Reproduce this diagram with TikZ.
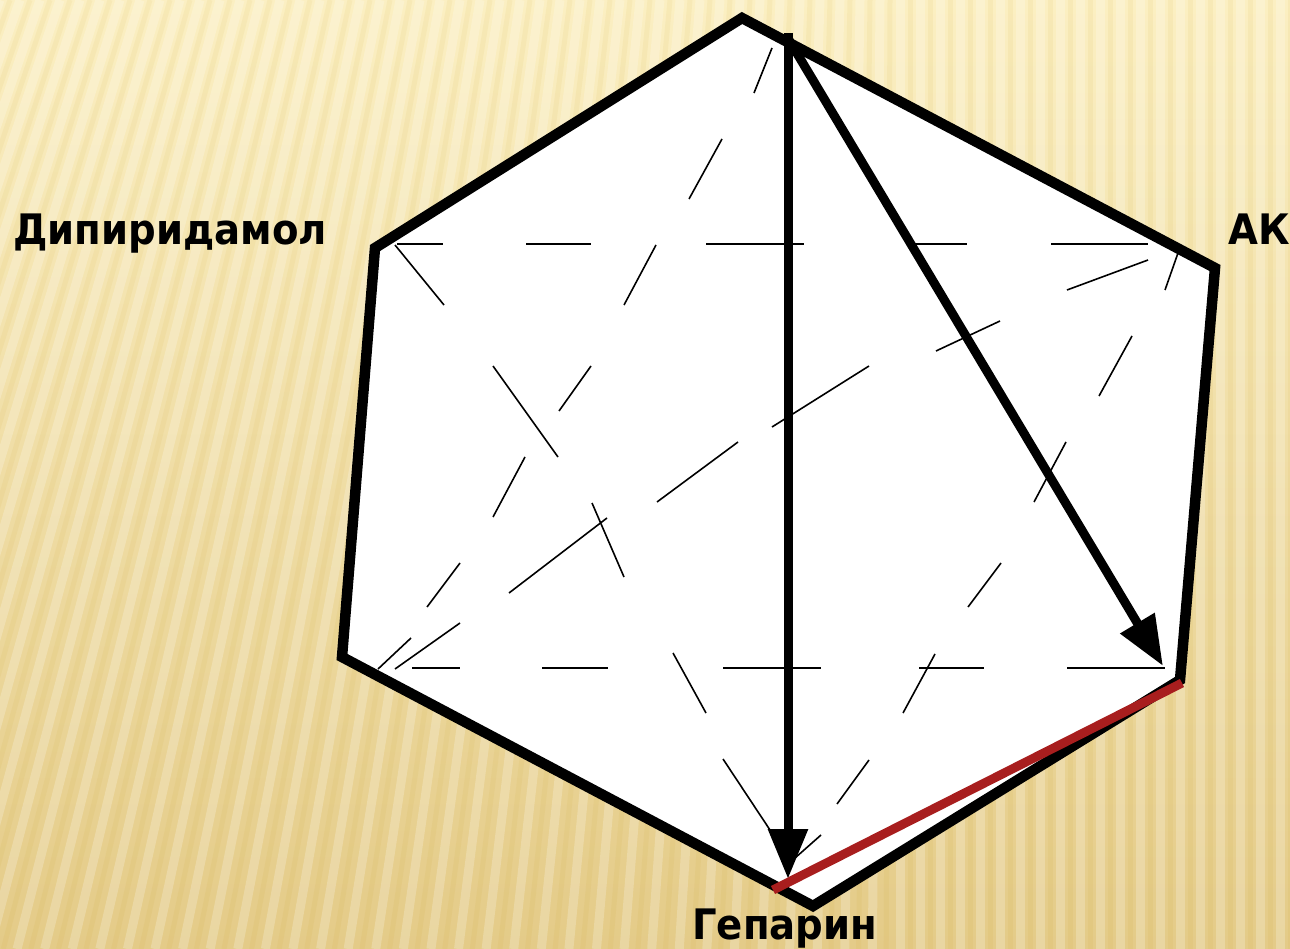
\documentclass[tikz,border=0pt]{standalone}
\usepackage{fontspec}
\setmainfont{DejaVu Sans}
\usetikzlibrary{arrows.meta}
\definecolor{bgtop}{HTML}{FBEFC2}
\definecolor{bgbot}{HTML}{E4CB88}
\definecolor{redline}{HTML}{A81E1E}
\tikzset{
  hexedge/.style={line width=10.5pt, line join=miter, draw=black, fill=white},
  dashseg/.style={line width=1.6pt, black},
  bigarrow/.style={line width=9pt, black, -{Triangle[length=50pt,width=38pt]}},
  redseg/.style={line width=9pt, redline},
  lbl/.style={font=\fontsize{42}{44}\selectfont\bfseries, inner sep=0pt, anchor=base west},
  stripe/.style={white, opacity=0.22, line width=9pt},
  dstripe/.style={black!40!orange!60!yellow, opacity=0.06, line width=5pt}
}
\begin{document}
\begin{tikzpicture}[x=1pt,y=-1pt]
\useasboundingbox (0,0) rectangle (1290,949);
% background
\begin{scope}
\clip (0,0) rectangle (1290,949);
\shade[top color=bgtop, bottom color=bgbot] (0,0) rectangle (1290,949);
\foreach \t in {-140,-120,...,1300} {
  \pgfmathsetmacro\k{max(0,0.36*(1-\t/900))}
  \draw[stripe] (\t,0) -- ({\t-\k*949},949);
  \pgfmathsetmacro\u{\t+10}
  \pgfmathsetmacro\kk{max(0,0.36*(1-\u/900))}
  \draw[dstripe] (\u,0) -- ({\u-\kk*949},949);
}
\end{scope}
% hexagon
\coordinate (T) at (742,18);
\coordinate (UR) at (1215,268);
\coordinate (LR) at (1180,680);
\coordinate (B) at (813,906);
\coordinate (LL) at (342,657);
\coordinate (UL) at (375,248);
\draw[hexedge] (T) -- (UR) -- (LR) -- (B) -- (LL) -- (UL) -- cycle;
% dashed construction lines
\foreach \a/\b/\c/\d in {
  397/244/443/244, 526/244/591/244, 706/244/804/244, 909/244/967/244, 1051/244/1148/244,
  412/668/460/668, 542/668/608/668, 723/668/821/668, 919/668/984/668, 1067/668/1165/668,
  772/48/754/93, 722/139/689/199, 656/245/624/305, 591/366/559/411, 525/457/493/517, 460/563/427/607, 411/638/378/669,
  395/245/444/305, 493/366/558/457, 592/503/624/577, 673/653/706/713, 723/759/772/833,
  1178/253/1165/290, 1132/336/1099/396, 1066/442/1034/502, 1001/563/968/607, 935/654/903/713, 869/760/837/804, 821/835/795/858,
  1148/260/1067/290, 1000/321/936/351, 869/366/772/427, 738/442/657/502, 607/518/509/593, 460/623/395/669}
  \draw[dashseg] (\a,\b) -- (\c,\d);
% arrows
\coordinate (S) at (788,33);
\coordinate (S2) at (789,40);
\coordinate (H) at (788,879);
\coordinate (A) at (1163,666);
\draw[bigarrow] (S) -- (H);
\draw[bigarrow] (S2) -- (A);
% red line
\coordinate (R1) at (773,890);
\coordinate (R2) at (1182,683);
\draw[redseg] (R1) -- (R2);
% labels
\node[lbl] (dip) at (13,245) {\scalebox{0.92}[1]{Дипиридамол}};
\node[lbl] (ak) at (1228,245) {\scalebox{0.92}[1]{АК}};
\node[lbl] (gep) at (692,939) {\scalebox{0.92}[1]{Гепарин}};
\end{tikzpicture}
\end{document}
